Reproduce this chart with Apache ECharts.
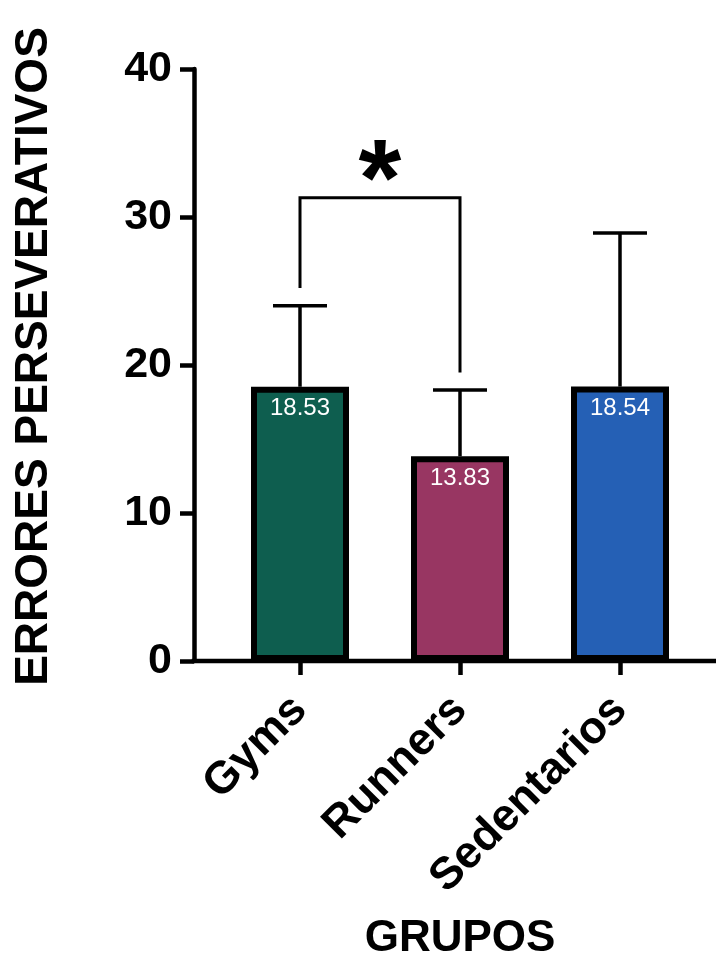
<!DOCTYPE html>
<html>
<head>
<meta charset="utf-8">
<script src="https://cdn.jsdelivr.net/npm/echarts@6/dist/echarts.min.js"></script>
<style>
  html, body { margin: 0; padding: 0; background: #ffffff; }
  #chart { width: 716px; height: 960px; }
</style>
</head>
<body>
<div id="chart"></div>
<script>
// Group means and standard deviations
const groups = ['Gyms', 'Runners', 'Sedentarios'];
const means = [18.53, 13.83, 18.54];
const sds = [5.47, 4.48, 10.38];
const barColors = ['#0e5e4f', '#983662', '#2560b5'];

// Value axis ticks
const yTickMin = 0;
const yTickMax = 40;
const yTickStep = 10;

// Significance bracket between Gyms and Runners
const bracketGroups = ['Gyms', 'Runners'];
const bracketTop = 31.3;
const bracketLegEnds = [25.2, 19.5];
const bracketMark = '*';

const FONT = '"Liberation Sans", Arial, Helvetica, sans-serif';

// Layout
const GRID_LEFT = 220, GRID_RIGHT = 16, GRID_TOP = 69, GRID_BOTTOM = 299;
const Y_AXIS_OFFSET = 26;
const AXIS_WIDTH = 4.5;

const chart = echarts.init(document.getElementById('chart'), null, { renderer: 'canvas' });

const option = {
  backgroundColor: '#ffffff',
  animation: false,
  grid: {
    left: GRID_LEFT, right: GRID_RIGHT, top: GRID_TOP, bottom: GRID_BOTTOM,
    containLabel: false, outerBoundsMode: 'none'
  },
  xAxis: {
    type: 'category',
    data: groups,
    name: 'GRUPOS',
    nameLocation: 'middle',
    nameGap: 256,
    nameTextStyle: { fontFamily: FONT, fontWeight: 'bold', fontSize: 44, color: '#000' },
    axisLine: { show: false },
    axisTick: { show: true, alignWithLabel: true, length: 14, lineStyle: { color: '#000', width: AXIS_WIDTH } },
    axisLabel: {
      rotate: 45, margin: 42, interval: 0,
      fontFamily: FONT, fontWeight: 'bold', fontSize: 45, color: '#000'
    },
    splitLine: { show: false }
  },
  yAxis: {
    type: 'value',
    min: yTickMin, max: yTickMax, interval: yTickStep,
    offset: Y_AXIS_OFFSET,
    name: 'ERRORES PERSEVERATIVOS',
    nameLocation: 'middle',
    nameRotate: 90,
    nameGap: 137,
    nameTextStyle: {
      fontFamily: FONT, fontWeight: 'bold', fontSize: 46, color: '#000',
      padding: [0, 0, 0, 17]
    },
    axisLine: { show: true, lineStyle: { color: '#000', width: AXIS_WIDTH } },
    axisTick: { show: true, inside: false, length: 14, lineStyle: { color: '#000', width: AXIS_WIDTH } },
    axisLabel: { margin: 22, fontFamily: FONT, fontWeight: 'bold', fontSize: 43, color: '#000' },
    splitLine: { show: false }
  },
  series: [
    {
      // error bars (mean to mean + SD), drawn under the bar outlines
      type: 'custom',
      z: 1,
      data: groups.map((g, i) => [i, means[i], means[i] + sds[i]]),
      encode: { x: 0, y: [1, 2] },
      renderItem: function (params, api) {
        const base = api.coord([api.value(0), api.value(1)]);
        const top = api.coord([api.value(0), api.value(2)]);
        const half = 27;
        const st = { stroke: '#000', lineWidth: 3.5 };
        return {
          type: 'group',
          children: [
            { type: 'line', shape: { x1: base[0], y1: base[1], x2: top[0], y2: top[1] }, style: st },
            { type: 'line', shape: { x1: top[0] - half, y1: top[1], x2: top[0] + half, y2: top[1] }, style: st }
          ]
        };
      }
    },
    {
      type: 'bar',
      z: 2,
      barWidth: 98,
      data: means.map((v, i) => ({
        value: v,
        itemStyle: { color: barColors[i], borderColor: '#000', borderWidth: 6 }
      })),
      label: {
        show: true,
        position: 'insideTop',
        distance: 10,
        formatter: p => p.value.toFixed(2),
        fontFamily: FONT,
        fontSize: 24,
        color: '#ffffff'
      }
    },
    {
      // significance bracket with its mark
      type: 'custom',
      z: 3,
      data: [[groups.indexOf(bracketGroups[0]), groups.indexOf(bracketGroups[1]), bracketTop, bracketLegEnds[0], bracketLegEnds[1]]],
      encode: { x: [0, 1], y: [2, 3, 4] },
      renderItem: function (params, api) {
        const a = api.coord([api.value(0), api.value(3)]);
        const b = api.coord([api.value(1), api.value(4)]);
        const topY = api.coord([api.value(0), api.value(2)])[1];
        const midX = (a[0] + b[0]) / 2;
        return {
          type: 'group',
          children: [
            {
              type: 'polyline',
              shape: { points: [[a[0], a[1]], [a[0], topY], [b[0], topY], [b[0], b[1]]] },
              style: { stroke: '#000', lineWidth: 3, fill: null }
            },
            {
              type: 'text',
              x: midX,
              y: topY + 42,
              style: {
                text: bracketMark,
                fontFamily: FONT, fontWeight: 'bold', fontSize: 110,
                fill: '#000', align: 'center', verticalAlign: 'bottom'
              }
            }
          ]
        };
      }
    }
  ]
};

chart.setOption(option);

// Full-width baseline at y = 0, running from the value axis to the right edge
const y0 = chart.convertToPixel({ yAxisIndex: 0 }, 0);
chart.setOption({
  graphic: [{
    type: 'line',
    z: 10,
    shape: { x1: GRID_LEFT - Y_AXIS_OFFSET - AXIS_WIDTH / 2, y1: y0, x2: chart.getWidth(), y2: y0 },
    style: { stroke: '#000', lineWidth: AXIS_WIDTH }
  }]
});
</script>
</body>
</html>
